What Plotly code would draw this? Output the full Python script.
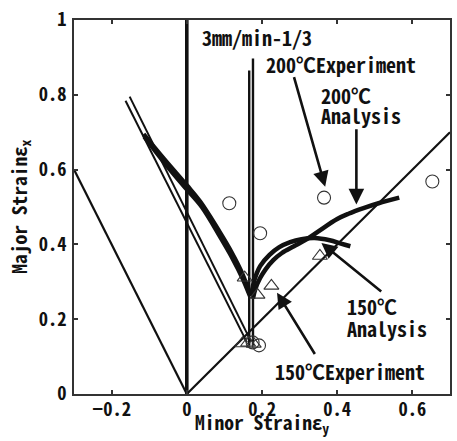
import plotly.graph_objects as go

# ---- data ----
# reference (strain path) lines
neg_path_x = [-0.3, 0.0]
neg_path_y = [0.6, 0.0]
diag_path_x = [0.0, 0.7]
diag_path_y = [0.0, 0.7]
plane_path_x = [0.0, 0.0]
plane_path_y = [0.0, 1.0]
vert_a_x = [0.166, 0.166]
vert_a_y = [0.13, 0.865]
vert_b_x = [0.176, 0.176]
vert_b_y = [0.13, 0.897]
thin_a_x = [-0.163, 0.160]
thin_a_y = [0.784, 0.138]
thin_b_x = [-0.152, 0.171]
thin_b_y = [0.795, 0.140]

# analysis curves (FLD), left and right branches
a200_left_x = [-0.115, -0.06, 0.0, 0.035, 0.088, 0.12, 0.146, 0.166]
a200_left_y = [0.695, 0.628, 0.558, 0.515, 0.432, 0.377, 0.325, 0.272]
a150_left_x = [-0.113, -0.06, 0.0, 0.04, 0.09, 0.122, 0.148, 0.168]
a150_left_y = [0.688, 0.619, 0.547, 0.500, 0.418, 0.362, 0.310, 0.262]
a150_right_x = [0.172, 0.176, 0.185, 0.195, 0.22, 0.245, 0.275, 0.305, 0.34, 0.38, 0.41, 0.435]
a150_right_y = [0.262, 0.29, 0.32, 0.342, 0.372, 0.392, 0.406, 0.414, 0.417, 0.411, 0.402, 0.395]
a200_right_x = [0.176, 0.182, 0.195, 0.21, 0.23, 0.253, 0.285, 0.316, 0.35, 0.40, 0.43, 0.47, 0.51, 0.565]
a200_right_y = [0.255, 0.28, 0.31, 0.334, 0.358, 0.377, 0.395, 0.412, 0.435, 0.468, 0.482, 0.497, 0.51, 0.525]

# experiments
exp200_x = [0.113, 0.195, 0.365, 0.653, 0.175, 0.192]
exp200_y = [0.510, 0.430, 0.525, 0.568, 0.138, 0.130]
exp150_x = [0.154, 0.188, 0.225, 0.354, 0.148, 0.163, 0.178]
exp150_y = [0.311, 0.265, 0.289, 0.369, 0.135, 0.137, 0.134]

x_tick_vals = [-0.2, 0, 0.2, 0.4, 0.6]
y_tick_vals = [0, 0.2, 0.4, 0.6, 0.8, 1]

FONT = "Noto Sans Mono CJK JP, DejaVu Sans Mono, monospace"
LINE = "#111111"

fig = go.Figure()

def add_line(x, y, w, shape="linear"):
    fig.add_trace(go.Scatter(x=x, y=y, mode="lines",
                             line=dict(color=LINE, width=w, shape=shape),
                             hoverinfo="skip", showlegend=False))

add_line(neg_path_x, neg_path_y, 2.2)
add_line(diag_path_x, diag_path_y, 2.2)
add_line(plane_path_x, plane_path_y, 3.6)
add_line(vert_a_x, vert_a_y, 2.4)
add_line(vert_b_x, vert_b_y, 2.4)
add_line(thin_a_x, thin_a_y, 2.0)
add_line(thin_b_x, thin_b_y, 2.0)
add_line(a200_left_x, a200_left_y, 4.5, "spline")
add_line(a150_left_x, a150_left_y, 4.5, "spline")
add_line(a200_right_x, a200_right_y, 4.5, "spline")
add_line(a150_right_x, a150_right_y, 4.5, "spline")

fig.add_trace(go.Scatter(x=exp200_x, y=exp200_y, mode="markers",
                         marker=dict(symbol="circle-open", size=13,
                                     color="#333333", line=dict(width=1.1)),
                         showlegend=False, hoverinfo="skip"))
fig.add_trace(go.Scatter(x=exp150_x, y=exp150_y, mode="markers",
                         marker=dict(symbol="triangle-up-open", size=13,
                                     color="#333333", line=dict(width=1.1)),
                         showlegend=False, hoverinfo="skip"))

# arrows (tip x,y ; tail ax,ay in data units)
arrows = [
    (0.368, 0.554, 0.284, 0.851),
    (0.451, 0.507, 0.451, 0.712),
    (0.358, 0.404, 0.521, 0.271),
    (0.240, 0.271, 0.343, 0.103),
]
for (x, y, ax, ay) in arrows:
    fig.add_annotation(x=x, y=y, ax=ax, ay=ay, xref="x", yref="y",
                       axref="x", ayref="y", text="", showarrow=True,
                       arrowhead=2, arrowsize=1.2, arrowwidth=2.6,
                       arrowcolor=LINE)

labels = [
    ("3mm/min-1/3", 0.035, 0.952),
    ("200℃Experiment", 0.206, 0.881),
    ("200℃", 0.352, 0.798),
    ("Analysis", 0.352, 0.745),
    ("150℃", 0.422, 0.235),
    ("Analysis", 0.422, 0.176),
    ("150℃Experiment", 0.230, 0.060),
]
for (t, x, y) in labels:
    fig.add_annotation(x=x, y=y, xref="x", yref="y", text=t, showarrow=False,
                       xanchor="left", yanchor="middle", align="left",
                       font=dict(family=FONT, size=20, color=LINE, weight="bold"))

# axis titles
fig.add_annotation(x=-0.147, y=0.5, xref="paper", yref="paper",
                   text="<b>Major Strainε<sub>x</sub></b>", textangle=-90,
                   showarrow=False, xanchor="center", yanchor="middle",
                   font=dict(family=FONT, size=19.5, color=LINE))
fig.add_annotation(x=0.499, y=-0.077, xref="paper", yref="paper",
                   text="<b>Minor Strainε<sub>y</sub></b>",
                   showarrow=False, xanchor="center", yanchor="middle",
                   font=dict(family=FONT, size=19.5, color=LINE))

axis_common = dict(showgrid=False, zeroline=False, showline=True,
                   linecolor="#333333", linewidth=1.5, mirror="ticks",
                   ticks="inside", ticklen=4, tickwidth=1.5,
                   tickcolor="#333333",
                   tickfont=dict(family=FONT, size=18.5, color=LINE, weight="bold"))

fig.update_xaxes(range=[-0.3, 0.7], tickvals=x_tick_vals, ticklabelstandoff=-2,
                 **axis_common)
fig.update_yaxes(range=[0, 1], tickvals=y_tick_vals, ticklabelstandoff=2,
                 **axis_common)

fig.update_layout(width=457, height=441,
                  margin=dict(l=74, r=5, t=17, b=47),
                  plot_bgcolor="white", paper_bgcolor="white",
                  showlegend=False)

fig.write_html("out.html", config={"displayModeBar": False},
               post_script="document.body.style.margin='0';document.body.style.overflow='hidden';")
